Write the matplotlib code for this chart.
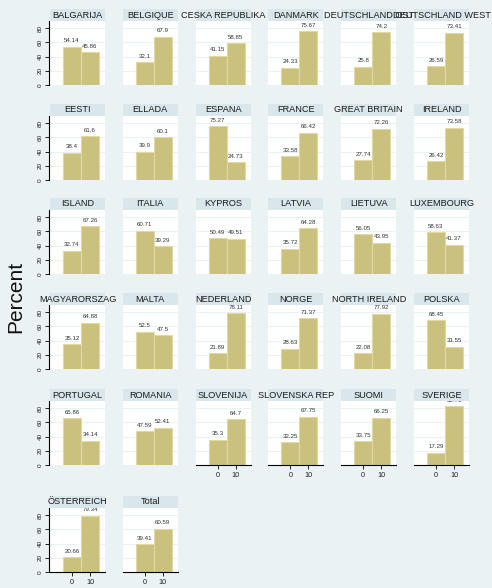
import numpy as np
import matplotlib
matplotlib.use('Agg')
import matplotlib.pyplot as plt
from matplotlib.patches import Rectangle

plt.rcParams['font.family'] = ['Liberation Sans', 'DejaVu Sans']

countries = ['BALGARIJA', 'BELGIQUE', 'CESKA REPUBLIKA', 'DANMARK', 'DEUTSCHLAND OST',
             'DEUTSCHLAND WEST', 'EESTI', 'ELLADA', 'ESPANA', 'FRANCE', 'GREAT BRITAIN',
             'IRELAND', 'ISLAND', 'ITALIA', 'KYPROS', 'LATVIA', 'LIETUVA', 'LUXEMBOURG',
             'MAGYARORSZAG', 'MALTA', 'NEDERLAND', 'NORGE', 'NORTH IRELAND', 'POLSKA',
             'PORTUGAL', 'ROMANIA', 'SLOVENIJA', 'SLOVENSKA REP', 'SUOMI', 'SVERIGE',
             'ÖSTERREICH', 'Total']
pct_0 = [54.14, 32.1, 41.15, 24.33, 25.8, 26.59, 38.4, 39.9, 75.27, 33.58, 27.74,
         26.42, 32.74, 60.71, 50.49, 35.72, 56.05, 58.63, 35.12, 52.5, 21.89, 28.63,
         22.08, 68.45, 65.86, 47.59, 35.3, 32.25, 33.75, 17.29, 20.66, 39.41]
pct_10 = [45.86, 67.9, 58.85, 75.67, 74.2, 73.41, 61.6, 60.1, 24.73, 66.42, 72.26,
          73.58, 67.26, 39.29, 49.51, 64.28, 43.95, 41.37, 64.88, 47.5, 78.11, 71.37,
          77.92, 31.55, 34.14, 52.41, 64.7, 67.75, 66.25, 82.71, 79.34, 60.59]
x_vals = [0, 10]
y_ticks = [0, 20, 40, 60, 80]

BG = '#EAF2F3'
STRIP = '#D9E6EB'
BAR = '#CAC17F'
BAR_EDGE = '#E0D9A3'

W, H = 492, 588
fig = plt.figure(figsize=(W / 100, H / 100), dpi=100, facecolor=BG)

ncol = 6
col_left = [50 + 72.8 * c for c in range(ncol)]
row_top = [9, 104, 198, 293, 389, 496]
pw, strip_h, ph = 55, 12, 64
n = len(countries)

for i, name in enumerate(countries):
    r, c = divmod(i, ncol)
    top = row_top[r] + strip_h
    ax = fig.add_axes([col_left[c] / W, 1 - (top + ph) / H, pw / W, ph / H])
    ax.set_facecolor('white')
    ax.bar(x_vals, [pct_0[i], pct_10[i]], width=10, color=BAR,
           edgecolor=BAR_EDGE, linewidth=0.8, zorder=2)
    for xv, v in zip(x_vals, [pct_0[i], pct_10[i]]):
        ax.annotate(f'{v:g}', (xv, v), xytext=(0, 2.5), textcoords='offset points',
                    ha='center', va='bottom', fontsize=4.4, color='#333333',
                    clip_on=True, annotation_clip=False, zorder=3)
    ax.set_xlim(-12.2, 18.3)
    ax.set_ylim(0, 90)
    for yv in y_ticks[1:]:
        ax.axhline(yv, color=BG, linewidth=0.8, zorder=1)
    for s in ax.spines.values():
        s.set_visible(False)

    # y axis only on first column
    if c == 0:
        ax.spines['left'].set_visible(True)
        ax.spines['left'].set_position(('outward', 1))
        ax.spines['left'].set_linewidth(0.8)
        ax.set_yticks(y_ticks)
        ax.set_yticklabels([str(t) for t in y_ticks], rotation=90, va='center',
                           fontsize=4.6, color='#222222')
        ax.tick_params(axis='y', length=3, width=0.6, pad=1.5)
    else:
        ax.set_yticks([])

    # x axis only on bottom panel of each column
    below = i + ncol
    if below >= n:
        ax.spines['bottom'].set_visible(True)
        ax.spines['bottom'].set_linewidth(0.8)
        ax.set_xticks(x_vals)
        ax.set_xticklabels([str(v) for v in x_vals], fontsize=5.2, color='#222222')
        ax.tick_params(axis='x', length=3, width=0.6, pad=2)
    else:
        ax.set_xticks([])

    ax.add_patch(Rectangle((0, 1), 1, strip_h / ph, transform=ax.transAxes,
                           facecolor=STRIP, edgecolor='none', clip_on=False, zorder=4))
    ax.text(0.5, 1 + strip_h / ph / 2, name, transform=ax.transAxes, ha='center',
            va='center', fontsize=6.6, color='#1a1a1a', clip_on=False, zorder=5)

fig.text(16 / W, 1 - 297 / H, 'Percent', rotation=90, ha='center', va='center',
         fontsize=15, color='#111111')

fig.savefig('out.png', dpi=100, facecolor=BG)
